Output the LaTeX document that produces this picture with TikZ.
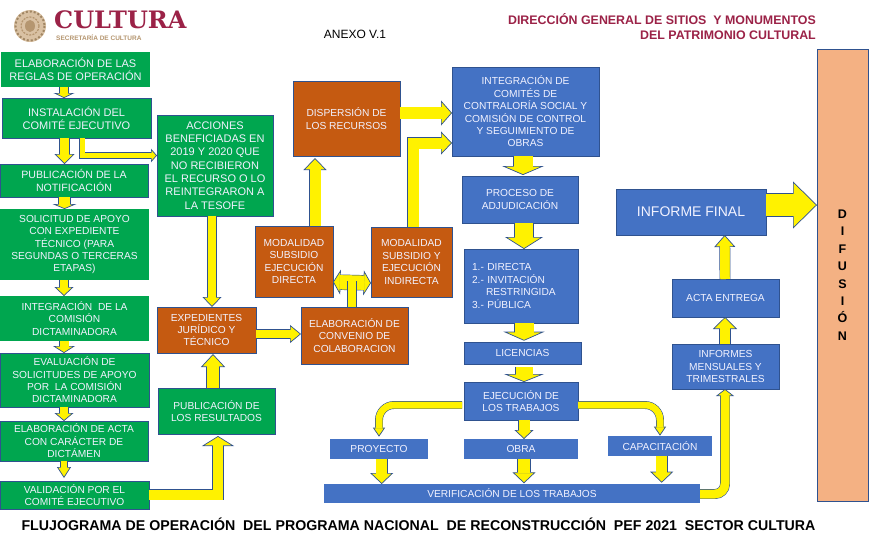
\documentclass[tikz,border=0pt]{standalone}
\usepackage{fontspec}
\setmainfont{Liberation Sans}
\newfontfamily\logofont{DejaVu Serif}
\usepackage{xcolor}
\usetikzlibrary{arrows.meta, positioning, calc}

\definecolor{boxgreen}{HTML}{00A64F}
\definecolor{boxblue}{HTML}{4472C4}
\definecolor{boxorange}{HTML}{C55A11}
\definecolor{boxsalmon}{HTML}{F4B183}
\definecolor{edgeblue}{HTML}{2F528F}
\definecolor{guinda}{HTML}{9B2247}
\definecolor{sealtan}{HTML}{C9A77C}

\begin{document}
\begin{tikzpicture}[
    x=1pt, y=-1pt,
    box/.style n args={2}{
        draw=edgeblue,
        line width=.8pt,
        text=white!95!blue,
        align=center,
        inner sep=0pt,
        outer sep=0pt,
        font=\fontsize{10.2}{12.4}\selectfont,
        minimum width=#1,
        minimum height=#2
    },
    greenbox/.style 2 args={box={#1}{#2}, fill=boxgreen},
    bluebox/.style 2 args={box={#1}{#2}, fill=boxblue},
    orangebox/.style 2 args={box={#1}{#2}, fill=boxorange},
    flat/.style={draw=none},
    bigger/.style={font=\fontsize{11}{13.3}\selectfont},
    flow/.style n args={3}{
        preaction={draw=edgeblue, line width=#1+1.4pt, shorten >=#3, -},
        draw=yellow,
        line width=#1,
        -{Triangle[width=#2, length=#3, line width=.7pt, fill=yellow, color=edgeblue]},
        postaction={draw=yellow, line width=#1, shorten >=#3-1pt, -}
    },
    twoway/.style n args={3}{
        preaction={draw=edgeblue, line width=#1+1.4pt, shorten >=#3, shorten <=#3, -},
        draw=yellow,
        line width=#1,
        {Triangle[width=#2, length=#3, line width=.7pt, fill=yellow, color=edgeblue]}-{Triangle[width=#2, length=#3, line width=.7pt, fill=yellow, color=edgeblue]},
        postaction={draw=yellow, line width=#1, shorten >=#3-1pt, shorten <=#3-1pt, -}
    },
    stem/.style={
        preaction={draw=edgeblue, line width=#1+1.4pt},
        draw=yellow,
        line width=#1
    }
]
\useasboundingbox (0,0) rectangle (872,533);

\fill[sealtan!70] (30,26) circle (16);
\draw[sealtan!80!black, line width=2pt, dotted] (30,26) circle (14.5);
\draw[sealtan!90!black, line width=1.2pt, dash pattern=on 2pt off 1.2pt] (30,26) circle (9);
\fill[sealtan!90!black] (30,26) ellipse (5 and 6);

\node[anchor=west, inner sep=0pt, text=guinda, font=\logofont\bfseries\fontsize{24}{24}\selectfont] (logo) at (54,20) {CULTURA};
\node[anchor=west, inner sep=0pt, text=sealtan!90!black, font=\bfseries\fontsize{6.5}{7}\selectfont] (secretaria) at (56,38) {SECRETARÍA DE CULTURA};
\node[font=\fontsize{12}{14}\selectfont, inner sep=0pt] (anexo) at (355,34) {ANEXO V.1};
\node[anchor=north east, align=right, inner sep=0pt, text=guinda, font=\bfseries\fontsize{12.4}{15}\selectfont] (direccion) at (816,13) {DIRECCIÓN GENERAL DE SITIOS\ \ Y MONUMENTOS\\DEL PATRIMONIO CULTURAL};
\node[inner sep=0pt, font=\bfseries\fontsize{14.2}{16}\selectfont] (titulo) at (418.5,524) {FLUJOGRAMA DE OPERACIÓN\ \ DEL PROGRAMA NACIONAL\ \ DE RECONSTRUCCIÓN\ \ PEF 2021\ \ SECTOR CULTURA};

\node[greenbox={149pt}{35pt}, flat, bigger] (regl) at (75.5,69.5) {ELABORACIÓN DE LAS\\REGLAS DE OPERACIÓN};
\node[greenbox={149pt}{40pt}, bigger, below=11pt of regl, xshift=1pt] (inst) {INSTALACIÓN DEL\\COMITÉ EJECUTIVO};
\node[greenbox={148pt}{33pt}, below=26pt of inst, xshift=-2.5pt, font=\fontsize{10.6}{13}\selectfont] (pub) {PUBLICACIÓN DE LA\\NOTIFICACIÓN};
\node[greenbox={149pt}{71pt}, flat, below=12pt of pub, xshift=.5pt] (sol) {SOLICITUD DE APOYO\\CON EXPEDIENTE\\TÉCNICO (PARA\\SEGUNDAS O TERCERAS\\ETAPAS)};
\node[greenbox={149pt}{45pt}, flat, below=16pt of sol] (integ) {INTEGRACIÓN\ \ DE LA\\COMISIÓN\\DICTAMINADORA};
\node[greenbox={149pt}{54pt}, below=12pt of integ] (eval) {EVALUACIÓN DE\\SOLICITUDES DE APOYO\\POR\ \ LA COMISIÓN\\DICTAMINADORA};
\node[greenbox={148pt}{40pt}, below=14pt of eval, xshift=-.5pt] (elab) {ELABORACIÓN DE ACTA\\CON CARÁCTER DE\\DICTÁMEN};
\node[greenbox={149pt}{28pt}, below=20pt of elab, xshift=.5pt] (valid) {VALIDACIÓN POR EL\\COMITÉ EJECUTIVO};

\node[greenbox={116pt}{101pt}, bigger] (acc) at (215,165.5) {ACCIONES\\BENEFICIADAS EN\\2019 Y 2020 QUE\\NO RECIBIERON\\EL RECURSO O LO\\REINTEGRARON A\\LA TESOFE};
\node[orangebox={99pt}{46pt}] (exped) at (206.5,330) {EXPEDIENTES\\JURÍDICO Y\\TÉCNICO};
\node[greenbox={117pt}{46pt}] (pubres) at (216.5,411) {PUBLICACIÓN DE\\LOS RESULTADOS};

\node[orangebox={107pt}{75pt}] (disp) at (346.5,118.5) {DISPERSIÓN DE\\LOS RECURSOS};
\node[orangebox={78pt}{71pt}] (moddir) at (294,261.5) {MODALIDAD\\SUBSIDIO\\EJECUCIÓN\\DIRECTA};
\node[orangebox={81pt}{70pt}, right=38pt of moddir, yshift=-.5pt] (modind) {MODALIDAD\\SUBSIDIO Y\\EJECUCIÓN\\INDIRECTA};
\node[orangebox={107pt}{57pt}] (conv) at (354.5,335.5) {ELABORACIÓN DE\\CONVENIO DE\\COLABORACION};

\node[bluebox={147pt}{89pt}] (integr) at (525.5,111.5) {INTEGRACIÓN DE\\COMITÉS DE\\CONTRALORÍA SOCIAL Y\\COMISIÓN DE CONTROL\\Y SEGUIMIENTO DE\\OBRAS};
\node[bluebox={116pt}{47pt}, below=20pt of integr, xshift=-5.5pt] (proc) {PROCESO DE\\ADJUDICACIÓN};
\node[bluebox={114pt}{74pt}, below=26pt of proc, xshift=1pt, align=left, text width=98pt] (modos) {1.- DIRECTA\\2.- INVITACIÓN\\\hspace*{14pt}RESTRINGIDA\\3.- PÚBLICA};
\node[bluebox={117pt}{22pt}, below=19pt of modos, xshift=1.5pt] (lic) {LICENCIAS};
\node[bluebox={114pt}{38pt}, below=18pt of lic, xshift=-1.5pt] (ejec) {EJECUCIÓN DE\\LOS TRABAJOS};
\node[bluebox={114pt}{20pt}, flat, below=19pt of ejec] (obra) {OBRA};
\node[bluebox={98pt}{20pt}, flat, left=36pt of obra] (proy) {PROYECTO};
\node[bluebox={104pt}{20pt}, flat] (cap) at (660,446) {CAPACITACIÓN};
\node[bluebox={376pt}{19pt}, flat] (verif) at (512,493.5) {VERIFICACIÓN DE LOS TRABAJOS};

\node[bluebox={107pt}{45pt}] (infor) at (725.5,366.5) {INFORMES\\MENSUALES Y\\TRIMESTRALES};
\node[bluebox={107pt}{38pt}, above=27pt of infor] (acta) {ACTA ENTREGA};
\node[bluebox={150pt}{46pt}, font=\fontsize{14}{16}\selectfont] (final) at (691,212) {INFORME FINAL};
\node[box={51pt}{452pt}, fill=boxsalmon, text=black, font=\bfseries\fontsize{12.5}{17.4}\selectfont] (dif) at (842.5,275) {D\\I\\F\\U\\S\\I\\Ó\\N};

\draw[flow={8pt}{21pt}{5pt}] ([xshift=-11.5pt]regl.south) -- ([xshift=-12.5pt]inst.north);
\draw[flow={9pt}{20pt}{10pt}] ([xshift=-12pt]inst.south) -- ([xshift=-9.5pt]pub.north);
\draw[flow={5pt}{13.5pt}{6pt}] ([xshift=5.5pt]inst.south) |- ([yshift=10pt]acc.west);
\draw[flow={11pt}{24pt}{5pt}] ([xshift=-9.5pt]pub.south) -- ([xshift=-10pt]sol.north);
\draw[flow={8pt}{19pt}{9pt}] ([xshift=-10.5pt]sol.south) -- ([xshift=-10.5pt]integ.north);
\draw[flow={9pt}{22pt}{7pt}] ([xshift=-10.5pt]integ.south) -- ([xshift=-10.5pt]eval.north);
\draw[flow={8pt}{19pt}{8pt}] ([xshift=-10.5pt]eval.south) -- ([xshift=-10pt]elab.north);
\draw[flow={6.5pt}{14pt}{11pt}] ([xshift=-10pt]elab.south) -- ([xshift=-10.5pt,yshift=3pt]valid.north);
\draw[flow={10pt}{32pt}{10pt}] ([yshift=.5pt]valid.east) -| ([xshift=1.5pt,yshift=-2pt]pubres.south);
\draw[flow={12pt}{24pt}{13pt}] ([xshift=-3.5pt]pubres.north) -- ([xshift=6.5pt,yshift=-1pt]exped.south);
\draw[flow={8.5pt}{19pt}{10pt}] ([xshift=-3pt]acc.south) -- ([xshift=5.5pt]exped.north);
\draw[flow={8pt}{18pt}{11pt}] ([yshift=-4pt]exped.east) -- ([yshift=1.5pt]conv.west);
\draw[flow={11pt}{23pt}{12pt}] ([xshift=21pt]moddir.north) -- ([xshift=-31.5pt,yshift=-2pt]disp.south);
\draw[flow={11.5pt}{25pt}{11pt}] ([yshift=5.5pt]disp.east) -- ([yshift=-1.5pt]integr.west);
\draw[flow={11pt}{23pt}{11pt}] ([xshift=1.5pt]modind.north) |- ([yshift=-31.5pt]integr.west);
\draw[twoway={14pt}{25pt}{7.5pt}] ([yshift=-20.5pt]moddir.east) -- ([yshift=-21pt]modind.west);
\draw[stem=8.5pt] ([xshift=-2.5pt]conv.north) -- ([xshift=-2.5pt,yshift=26pt]conv.north);
\draw[flow={19pt}{42pt}{9pt}] ([xshift=-2.5pt]integr.south) -- ([xshift=3pt,yshift=1pt]proc.north);
\draw[flow={18pt}{38pt}{12pt}] ([xshift=4pt]proc.south) -- ([xshift=3pt]modos.north);
\draw[flow={19pt}{41pt}{9pt}] ([xshift=3pt]modos.south) -- ([xshift=1.5pt,yshift=1.3pt]lic.north);
\draw[flow={17pt}{40pt}{8pt}] ([xshift=1.5pt,yshift=-3pt]lic.south) -- ([xshift=3pt]ejec.north);
\draw[flow={11pt}{19pt}{9pt}] ([xshift=3pt]ejec.south) -- ([xshift=3pt]obra.north);
\draw[flow={6.5pt}{12pt}{9pt}, rounded corners=15pt] ([xshift=-2pt,yshift=-4pt]ejec.west) -| ([yshift=2.3pt]proy.north);
\draw[flow={6.5pt}{12pt}{9pt}, rounded corners=15pt] ([yshift=-4pt]ejec.east) -| ([yshift=.3pt]cap.north);
\draw[flow={11pt}{23pt}{11pt}] ([xshift=2.7pt]proy.south) -- ([xshift=-130.3pt]verif.north);
\draw[flow={12pt}{23pt}{11pt}] ([xshift=3pt]obra.south) -- ([xshift=12pt,yshift=.7pt]verif.north);
\draw[flow={11pt}{23pt}{11pt}] ([xshift=1.7pt]cap.south) -- ([xshift=149.7pt,yshift=1.3pt]verif.north);
\draw[flow={8.5pt}{18pt}{7pt}, rounded corners=10pt] ([yshift=-.5pt]verif.east) -| ([xshift=-.5pt]infor.south);
\draw[flow={10.5pt}{24pt}{12pt}] ([xshift=-.5pt]infor.north) -- ([xshift=-.5pt]acta.south);
\draw[flow={9.5pt}{21pt}{12pt}] ([xshift=-.5pt]acta.north) -- ([xshift=33.7pt]final.south);
\draw[flow={22pt}{47pt}{24pt}] ([yshift=7pt]final.east) -- ([yshift=70pt]dif.west);
\end{tikzpicture}
\end{document}
